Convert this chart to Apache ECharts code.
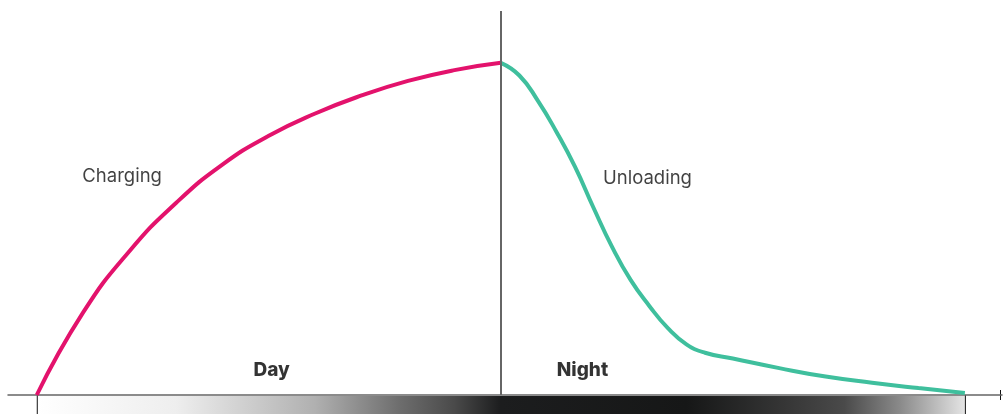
<!DOCTYPE html>
<html><head><meta charset="utf-8">
<script src="https://cdn.jsdelivr.net/npm/echarts@6/dist/echarts.min.js"></script>
<style>html,body{margin:0;padding:0;background:#fff}#c{width:1003px;height:414px}</style>
</head><body><div id="c"></div>
<script>
// Charging curve (day): [time, level]
const chargingX = [0, 5, 10, 15, 20, 25, 30, 35, 40, 45, 50];
const chargingY = [0, 21.5, 37.5, 50, 60, 67.5, 73.3, 78, 81.8, 84.6, 86.5];
// Unloading curve (night)
const unloadingX = [50, 52, 54, 56, 58, 60, 62, 64, 66, 68, 70, 72, 75, 80, 85, 90, 95, 100];
const unloadingY = [86.5, 83.2, 76.6, 68.5, 59.4, 48.7, 38.5, 29.9, 23.2, 17.4, 13.2, 11.0, 9.5, 7.0, 4.8, 3.2, 1.8, 0.5];
const dayNightSplit = 50;
const labels = [
  {text: 'Charging', x: 9.2, y: 56.8, bold: false},
  {text: 'Unloading', x: 65.8, y: 56.5, bold: false},
  {text: 'Day', x: 25.3, y: 6.5, bold: true},
  {text: 'Night', x: 58.8, y: 6.5, bold: true}
];

const zip = (xs, ys) => xs.map((x, i) => [x, ys[i]]);
const chart = echarts.init(document.getElementById('c'));
chart.setOption({
  animation: false,
  grid: {left: 8, right: 1, top: 11, bottom: 19},
  xAxis: {type: 'value', min: -3.1, max: 104, show: true,
    axisLine: {show: true, lineStyle: {color: '#666', width: 1.5}},
    axisTick: {show: false}, axisLabel: {show: false}, splitLine: {show: false}},
  yAxis: {type: 'value', min: 0, max: 100, show: false},
  series: [
    {type: 'line', data: zip(chargingX, chargingY), smooth: 0.5, symbol: 'none',
      lineStyle: {color: '#e3126c', width: 4}, z: 3,
      markLine: {silent: true, symbol: 'none', label: {show: false},
        lineStyle: {color: '#666', width: 2, type: 'solid'},
        data: [[{coord: [dayNightSplit, 0]}, {coord: [dayNightSplit, 100]}]]}},
    {type: 'line', data: zip(unloadingX, unloadingY), smooth: 0.5, symbol: 'none',
      lineStyle: {color: '#3fbf9d', width: 4}, z: 3},
    {type: 'scatter', symbolSize: 0, silent: true,
      data: labels.map(l => ({value: [l.x, l.y], name: l.text,
        label: {show: true, position: 'inside', formatter: l.text,
          fontFamily: 'Inter, Roboto, sans-serif', fontSize: l.bold ? 19 : 18.5,
          fontWeight: l.bold ? 800 : 'normal', color: l.bold ? '#000' : '#111'}}))}
  ]
});

function drawDecor() {
  const p0 = chart.convertToPixel({gridIndex: 0}, [0, 0]);
  const p1 = chart.convertToPixel({gridIndex: 0}, [100, 0]);
  const pEnd = chart.convertToPixel({gridIndex: 0}, [104, 0]);
  const y0 = p0[1];
  chart.setOption({graphic: [
    {type: 'rect', shape: {x: p0[0], y: y0 + 1, width: p1[0] - p0[0], height: 30}, silent: true,
      style: {fill: new echarts.graphic.LinearGradient(0, 0, 1, 0, [
        {offset: 0, color: '#ffffff'}, {offset: 0.15, color: '#eeeeee'},
        {offset: 0.3, color: '#b0b0b0'}, {offset: 0.39, color: '#6e6e6e'},
        {offset: 0.45, color: '#4a4a4a'}, {offset: 0.5, color: '#1c1d1e'},
        {offset: 0.7, color: '#161717'}, {offset: 0.82, color: '#3a3a3a'},
        {offset: 0.87, color: '#4a4a4a'}, {offset: 0.93, color: '#8a8a8a'},
        {offset: 1, color: '#e4e4e4'}])}},
    {type: 'line', shape: {x1: p0[0] + 0.5, y1: y0, x2: p0[0] + 0.5, y2: 414}, style: {stroke: '#111', lineWidth: 1}},
    {type: 'line', shape: {x1: p1[0] + 0.5, y1: y0, x2: p1[0] + 0.5, y2: 414}, style: {stroke: '#111', lineWidth: 1}},
    {type: 'line', shape: {x1: pEnd[0] - 1.5, y1: y0 - 5, x2: pEnd[0] - 1.5, y2: y0 + 5}, style: {stroke: '#111', lineWidth: 1}}
  ]});
}
drawDecor();
</script></body></html>
